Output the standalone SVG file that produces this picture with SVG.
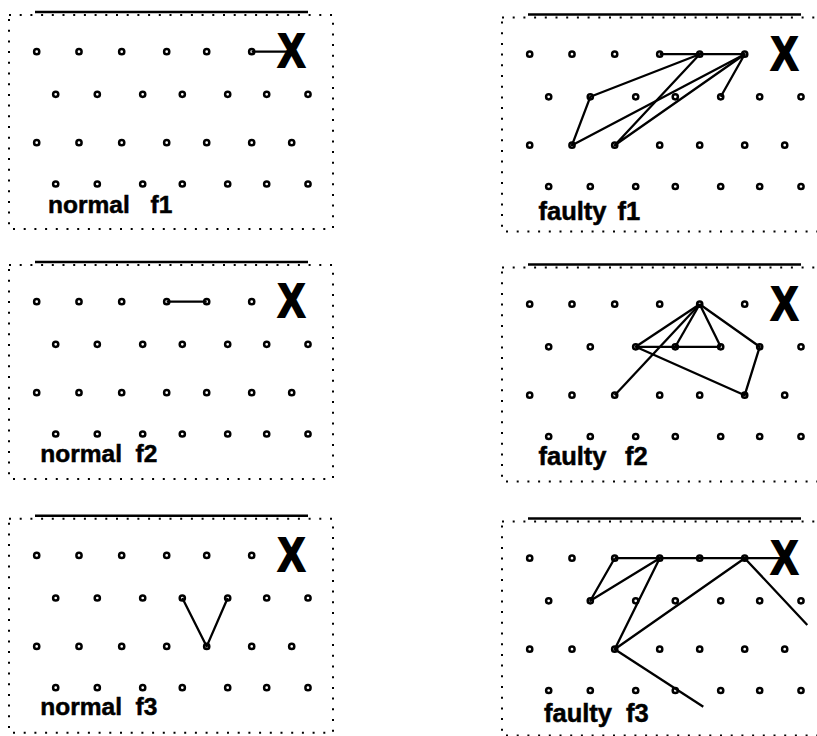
<svg xmlns="http://www.w3.org/2000/svg" xmlns:xlink="http://www.w3.org/1999/xlink" width="817" height="736" viewBox="0 0 817 736">
<style>
.frame{fill:none;stroke:#000;stroke-width:2;stroke-dasharray:2 8.7}
.top{stroke:#000;stroke-width:2.6}
.dot{fill:#fff;stroke:#000;stroke-width:2.5}
.edge{fill:none;stroke:#000;stroke-width:2.3;stroke-linejoin:round}
.lbl{font-family:"Liberation Sans",Arial,sans-serif;font-weight:bold;font-size:24.5px;fill:#000;stroke:#000;stroke-width:0.5}
.lblf{font-family:"Liberation Sans",Arial,sans-serif;font-weight:bold;font-size:25.5px;fill:#000;stroke:#000;stroke-width:0.5}
.bigx{font-family:"Liberation Sans",Arial,sans-serif;font-weight:bold;font-size:48px;fill:#000;stroke:#000;stroke-width:2.2;stroke-linejoin:miter}
</style>
<defs>
<g id="grid">
<rect class="frame" x="9" y="15" width="324" height="214"/>
<line class="top" x1="35" y1="12" x2="308" y2="12"/>
<g class="dots">
<circle class="dot" cx="36.7" cy="51.7" r="2.6"/><circle class="dot" cx="79" cy="51.7" r="2.6"/><circle class="dot" cx="121.7" cy="51.7" r="2.6"/><circle class="dot" cx="166.7" cy="51.7" r="2.6"/><circle class="dot" cx="206.7" cy="51.7" r="2.6"/><circle class="dot" cx="251.7" cy="51.7" r="2.6"/>
<circle class="dot" cx="55.7" cy="94.3" r="2.6"/><circle class="dot" cx="97.3" cy="94.3" r="2.6"/><circle class="dot" cx="142.7" cy="94.3" r="2.6"/><circle class="dot" cx="182.3" cy="94.3" r="2.6"/><circle class="dot" cx="227.7" cy="94.3" r="2.6"/><circle class="dot" cx="266.7" cy="94.3" r="2.6"/><circle class="dot" cx="308" cy="94.3" r="2.6"/>
<circle class="dot" cx="36.7" cy="142.7" r="2.6"/><circle class="dot" cx="79" cy="142.7" r="2.6"/><circle class="dot" cx="121.7" cy="142.7" r="2.6"/><circle class="dot" cx="166.7" cy="142.7" r="2.6"/><circle class="dot" cx="206.7" cy="142.7" r="2.6"/><circle class="dot" cx="251.7" cy="142.7" r="2.6"/><circle class="dot" cx="291.7" cy="142.7" r="2.6"/>
<circle class="dot" cx="55.7" cy="184" r="2.6"/><circle class="dot" cx="97.3" cy="184" r="2.6"/><circle class="dot" cx="142.7" cy="184" r="2.6"/><circle class="dot" cx="182.3" cy="184" r="2.6"/><circle class="dot" cx="227.7" cy="184" r="2.6"/><circle class="dot" cx="266.7" cy="184" r="2.6"/><circle class="dot" cx="308" cy="184" r="2.6"/>
</g>
</g>
<text id="bigX" class="bigx" text-anchor="middle" transform="translate(291.5,67.3) scale(0.84,1)">X</text>
</defs>

<g id="normal-f1">
<use xlink:href="#grid"/>
<g class="connectors"><path class="edge" d="M251.7 51.7H288"/></g>
<use xlink:href="#bigX"/>
<text class="lbl" x="48" y="213.3">normal <tspan x="150.5">f1</tspan></text>
</g>

<g id="normal-f2" transform="translate(0,250)">
<use xlink:href="#grid"/>
<g class="connectors"><path class="edge" d="M166.7 51.7H206.7"/></g>
<use xlink:href="#bigX"/>
<text class="lbl" x="40.3" y="212.3">normal <tspan x="135.5">f2</tspan></text>
</g>

<g id="normal-f3" transform="translate(0,503.7)">
<use xlink:href="#grid"/>
<g class="connectors"><path class="edge" d="M182.3 94.3L206.7 142.7L227.7 94.3"/></g>
<use xlink:href="#bigX"/>
<text class="lbl" x="40.3" y="211.3">normal <tspan x="135.5">f3</tspan></text>
</g>

<g id="faulty-f1" transform="translate(493,2.5)">
<use xlink:href="#grid"/>
<g class="connectors">
<path class="edge" d="M166.7 51.7H251.7"/>
<path class="edge" d="M206.7 51.7L97.3 94.3L79 142.7L251.7 51.7"/>
<path class="edge" d="M206.7 51.7L121.7 142.7L251.7 51.7L227.7 94.3"/>
</g>
<use xlink:href="#bigX"/>
<text class="lblf" x="45.5" y="217.5">faulty <tspan x="124.5">f1</tspan></text>
</g>

<g id="faulty-f2" transform="translate(493,252.5)">
<use xlink:href="#grid"/>
<g class="connectors">
<path class="edge" d="M206.7 51.7L142.7 94.3"/>
<path class="edge" d="M206.7 51.7L182.3 94.3"/>
<path class="edge" d="M206.7 51.7L227.7 94.3"/>
<path class="edge" d="M206.7 51.7L121.7 142.7"/>
<path class="edge" d="M206.7 51.7L266.7 94.3L251.7 142.7L142.7 94.3H227.7"/>
</g>
<use xlink:href="#bigX"/>
<text class="lblf" x="45.5" y="212.5">faulty <tspan x="132">f2</tspan></text>
</g>

<g id="faulty-f3" transform="translate(493,506.5)">
<use xlink:href="#grid"/>
<g class="connectors">
<path class="edge" d="M121.7 51.7H290"/>
<path class="edge" d="M121.7 51.7L97.3 94.3L166.7 51.7L121.7 142.7L251.7 51.7L314.3 118.5"/>
<path class="edge" d="M121.7 142.7L210.3 200.2"/>
</g>
<use xlink:href="#bigX"/>
<text class="lblf" x="51" y="215.5">faulty <tspan x="133">f3</tspan></text>
</g>
</svg>
